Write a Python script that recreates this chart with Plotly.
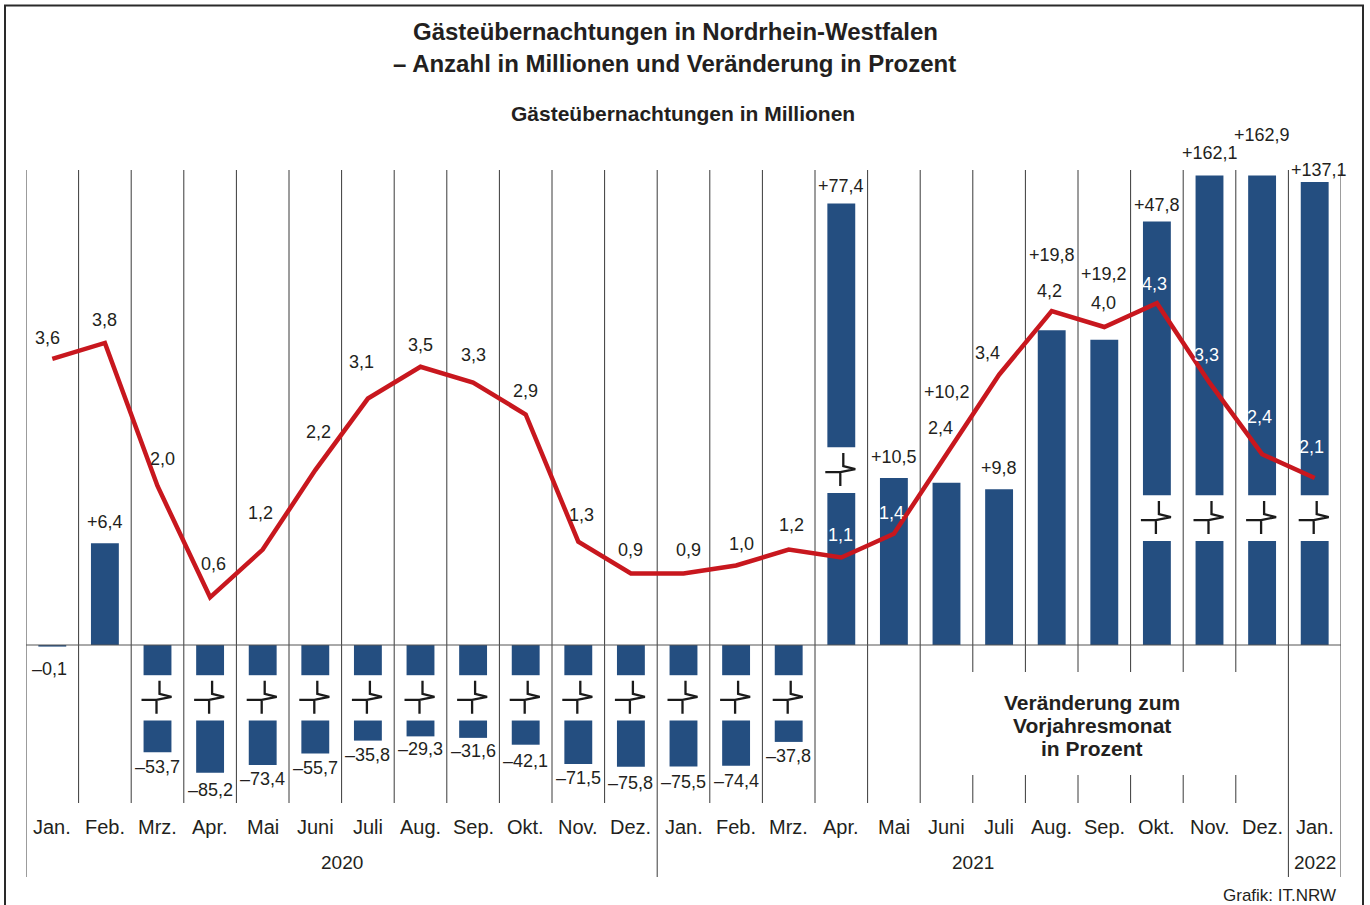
import math
import plotly.graph_objects as go

# ---------------- data ----------------
months = ["Jan.", "Feb.", "Mrz.", "Apr.", "Mai", "Juni", "Juli", "Aug.", "Sep.", "Okt.", "Nov.", "Dez.",
          "Jan.", "Feb.", "Mrz.", "Apr.", "Mai", "Juni", "Juli", "Aug.", "Sep.", "Okt.", "Nov.", "Dez.",
          "Jan."]
years = ["2020", "2021", "2022"]
year_spans = [(0, 11), (12, 23), (24, 24)]

naechte_mio = [3.6, 3.8, 2.0, 0.6, 1.2, 2.2, 3.1, 3.5, 3.3, 2.9, 1.3, 0.9,
               0.9, 1.0, 1.2, 1.1, 1.4, 2.4, 3.4, 4.2, 4.0, 4.3, 3.3, 2.4, 2.1]
veraenderung_pct = [-0.1, 6.4, -53.7, -85.2, -73.4, -55.7, -35.8, -29.3, -31.6, -42.1, -71.5, -75.8,
                    -75.5, -74.4, -37.8, 77.4, 10.5, 10.2, 9.8, 19.8, 19.2, 47.8, 162.1, 162.9, 137.1]

title1 = "Gästeübernachtungen in Nordrhein-Westfalen"
title2 = "– Anzahl in Millionen und Veränderung in Prozent"
subtitle = "Gästeübernachtungen in Millionen"
legend_lines = ["Veränderung zum", "Vorjahresmonat", "in Prozent"]
credit = "Grafik: IT.NRW"

# ---------------- styles / layout ----------------
W, H = 1370, 905
PLOT_L, PLOT_R = 26, 1341
ZERO_PX = 645
PX_PER_PCT = 15.9
PCT_PER_MIO = 5.0
BAR_COLOR = "#244e80"
LINE_COLOR = "#c8171e"
TEXT = "#231f20"
FONT = "Liberation Sans, Arial, Helvetica, sans-serif"

# broken-axis settings (in display % units)
NEG_BREAK = (-1.9, -4.75)
POS_BREAK_DEFAULT = 6.54
POS_BREAK_APR = 9.56
POS_GAP = 2.88


def neg_display(v):
    if v > -20:
        return v
    return -(4.75 + 0.041 * (abs(v) - 5))


def pos_display(v):
    if v <= 40:
        return v
    return 24.57 + 2.366 * math.log(v / 20)


def display(v):
    return neg_display(v) if v < 0 else pos_display(v)


def py(p):
    return 1 - p / H


def pxp(p):
    return p / W


y_top = ZERO_PX / PX_PER_PCT
y_bot = -(H - ZERO_PX) / PX_PER_PCT

n = len(months)
xs = list(range(n))

# bar segments
low_y, low_base = [], []
up_x, up_y, up_base = [], [], []
breaks = []  # (x, center display value)
for i, v in enumerate(veraenderung_pct):
    d = display(v)
    if v <= -20:
        low_base.append(0)
        low_y.append(NEG_BREAK[0])
        up_x.append(i)
        up_base.append(NEG_BREAK[1])
        up_y.append(d - NEG_BREAK[1])
        breaks.append((i, (NEG_BREAK[0] + NEG_BREAK[1]) / 2))
    elif v > 40:
        b0 = POS_BREAK_APR if i == 15 else POS_BREAK_DEFAULT
        b1 = b0 + POS_GAP
        low_base.append(0)
        low_y.append(b0)
        up_x.append(i)
        up_base.append(b1)
        up_y.append(d - b1)
        breaks.append((i, (b0 + b1) / 2))
    else:
        low_base.append(0)
        low_y.append(d)

fig = go.Figure()
BAR_W = 0.53
fig.add_trace(go.Bar(x=xs, y=low_y, base=low_base, width=BAR_W, marker=dict(color=BAR_COLOR, line=dict(width=0)),
                     hoverinfo="skip", showlegend=False))
fig.add_trace(go.Bar(x=up_x, y=up_y, base=up_base, width=BAR_W, marker=dict(color=BAR_COLOR, line=dict(width=0)),
                     hoverinfo="skip", showlegend=False))
fig.add_trace(go.Scatter(x=xs, y=naechte_mio, mode="lines", yaxis="y2",
                         line=dict(color=LINE_COLOR, width=4.5), hoverinfo="skip", showlegend=False))

shapes = []
# vertical grid lines
for k in range(n + 1):
    xb = k - 0.5
    long_line = k in (0, 12, 24, 25)
    shapes.append(dict(type="line", xref="x", yref="paper", x0=xb, x1=xb, y0=py(170),
                       y1=py(877 if long_line else 803), line=dict(color="#3a3a3a", width=1), layer="below"))
# white box for legend text
shapes.append(dict(type="rect", xref="x", yref="paper", x0=17.45, x1=22.55, y0=py(672), y1=py(775),
                   fillcolor="white", line=dict(width=0), layer="above"))
# zero line
shapes.append(dict(type="line", xref="x", yref="y", x0=-0.5, x1=24.5, y0=0, y1=0,
                   line=dict(color="#555555", width=1), layer="above"))
# break markers (pixel offsets, y up)
brk_path = "M 2,17 L 2,4 L 14,1 L -1,-2 L -16,-2 M -1,-2 L -1,-16"
for (bx, by) in breaks:
    shapes.append(dict(type="path", xref="x", yref="y", xsizemode="pixel", ysizemode="pixel",
                       xanchor=bx, yanchor=by, path=brk_path,
                       line=dict(color="#1a1a1a", width=2.3), layer="above"))
# outer frame
shapes.append(dict(type="rect", xref="paper", yref="paper", x0=pxp(5), x1=pxp(1363), y0=py(5.5), y1=py(912),
                   line=dict(color="#2a2a2a", width=2), fillcolor="rgba(0,0,0,0)", layer="above"))

ann = []
# line labels
line_dy = [21, 23, 27, 33, 37, 38, 37, 22, 28, 23, 27, 23, 23, 22, 25, 23, 21, 26, 22, 20, 24, 19, 28, 37, 31]
line_dx = [-5, 0, 5, 3, -2, 3, -6, 0, 0, 0, 3, 0, 5, 5, 3, -1, -2, -6, -12, -2, -1, -2, -3, -3, -3]
white_labels = {15, 16, 21, 22, 23, 24}
for i, v in enumerate(naechte_mio):
    ann.append(dict(x=i, y=v, xref="x", yref="y2", text=f"{v:.1f}".replace(".", ","), showarrow=False,
                    yshift=line_dy[i], xshift=line_dx[i], xanchor="center", yanchor="middle",
                    font=dict(family=FONT, size=18, color="white" if i in white_labels else TEXT)))
# bar labels
bar_dy = [-22, 21, -15, -17, -14, -14, -14, -13, -13, -16, -14, -16, -16, -15, -14,
          17, 21, 91, 21, 75, 66, 17, 23, 40, 12]
bar_dx = [-3, 0, 0, 0, 0, 0, 0, 0, 0, 0, 0, 0, 0, 0, 0, 0, 0, 0, 0, 0, 0, 0, 0, 0, 4]
for i, v in enumerate(veraenderung_pct):
    s = f"{abs(v):.1f}".replace(".", ",")
    s = ("+" if v > 0 else "–") + s
    ann.append(dict(x=i, y=display(v), xref="x", yref="y", text=s, showarrow=False,
                    yshift=bar_dy[i], xshift=bar_dx[i], xanchor="center", yanchor="middle",
                    font=dict(family=FONT, size=18, color=TEXT)))
# month labels
for i, m in enumerate(months):
    ann.append(dict(x=i, y=py(827), xref="x", yref="paper", text=m, showarrow=False,
                    xanchor="center", yanchor="middle", font=dict(family=FONT, size=20, color=TEXT)))
# year labels
for yl, (a, b) in zip(years, year_spans):
    ann.append(dict(x=(a + b) / 2, y=py(862), xref="x", yref="paper", text=yl, showarrow=False,
                    xanchor="center", yanchor="middle", font=dict(family=FONT, size=19, color=TEXT)))
# titles
ann.append(dict(x=pxp(675), y=py(31), xref="paper", yref="paper", text=f"<b>{title1}</b>", showarrow=False,
                xanchor="center", yanchor="middle", font=dict(family=FONT, size=24, color=TEXT)))
ann.append(dict(x=pxp(674), y=py(63), xref="paper", yref="paper", text=f"<b>{title2}</b>", showarrow=False,
                xanchor="center", yanchor="middle", font=dict(family=FONT, size=24, color=TEXT)))
ann.append(dict(x=pxp(683), y=py(114), xref="paper", yref="paper", text=f"<b>{subtitle}</b>", showarrow=False,
                xanchor="center", yanchor="middle", font=dict(family=FONT, size=21, color=TEXT)))
for j, line in enumerate(legend_lines):
    ann.append(dict(x=pxp(1092), y=py(702 + 23 * j), xref="paper", yref="paper", text=f"<b>{line}</b>",
                    showarrow=False, xanchor="center", yanchor="middle", align="center",
                    font=dict(family=FONT, size=21, color=TEXT)))
ann.append(dict(x=pxp(1338), y=py(895), xref="paper", yref="paper", text=credit, showarrow=False,
                xanchor="right", yanchor="middle", font=dict(family=FONT, size=17, color=TEXT)))

fig.update_layout(
    width=W, height=H,
    margin=dict(l=0, r=0, t=0, b=0, pad=0),
    paper_bgcolor="white", plot_bgcolor="white",
    barmode="overlay",
    showlegend=False,
    xaxis=dict(domain=[PLOT_L / W, PLOT_R / W], range=[-0.5, 24.5], visible=False, fixedrange=True),
    yaxis=dict(domain=[0, 1], range=[y_bot, y_top], visible=False, fixedrange=True),
    yaxis2=dict(domain=[0, 1], range=[y_bot / PCT_PER_MIO, y_top / PCT_PER_MIO], overlaying="y",
                visible=False, fixedrange=True),
    shapes=shapes,
    annotations=ann,
)

fig.write_html("out.html", config={"displayModeBar": False, "staticPlot": True},
               post_script="document.body.style.margin='0';")
